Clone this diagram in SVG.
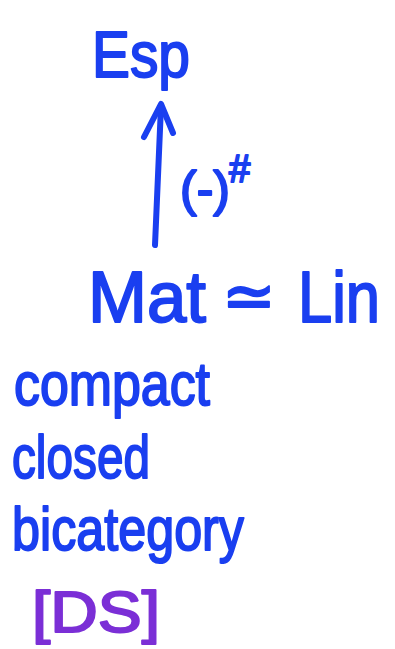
<svg xmlns="http://www.w3.org/2000/svg" width="395" height="649" viewBox="0 0 395 649">
<style>
.t{font-family:"Liberation Sans","DejaVu Sans",sans-serif;fill:#1a3ff0;stroke:#1a3ff0;stroke-width:2;stroke-linejoin:round}
.s{font-family:"DejaVu Sans","Noto Sans",sans-serif}
.p{fill:#7b2fd6;stroke:#7b2fd6}
.c{fill:none;stroke:#1a3ff0;stroke-width:6;stroke-linecap:round;stroke-linejoin:round}
</style>
<rect width="395" height="649" fill="#ffffff"/>
<g id="connectors">
<path class="c" d="M155,245 L161,106"/>
<path class="c" d="M144,137 L161,104 L173,133"/>
<g id="label-sharp">
<text class="t" x="180" y="206" font-size="50" textLength="50" lengthAdjust="spacingAndGlyphs">(-)</text>
<text class="t" x="229" y="182" font-size="38">#</text>
</g>
</g>
<g id="node-esp"><text class="t" x="92" y="77" font-size="64" textLength="98" lengthAdjust="spacingAndGlyphs">Esp</text></g>
<g id="node-matlin">
<text class="t" x="88" y="322" font-size="72" textLength="118" lengthAdjust="spacingAndGlyphs">Mat</text>
<text class="t s" x="222" y="318" font-size="64">≃</text>
<text class="t" x="298" y="322" font-size="72" textLength="82" lengthAdjust="spacingAndGlyphs">Lin</text>
</g>
<g id="note">
<text class="t" x="14" y="405" font-size="62" textLength="196" lengthAdjust="spacingAndGlyphs">compact</text>
<text class="t" x="12" y="478" font-size="62" textLength="138" lengthAdjust="spacingAndGlyphs">closed</text>
<text class="t" x="12" y="550" font-size="62" textLength="232" lengthAdjust="spacingAndGlyphs">bicategory</text>
<text class="t p" x="32" y="632" font-size="58" textLength="128" lengthAdjust="spacingAndGlyphs">[DS]</text>
</g>
</svg>
